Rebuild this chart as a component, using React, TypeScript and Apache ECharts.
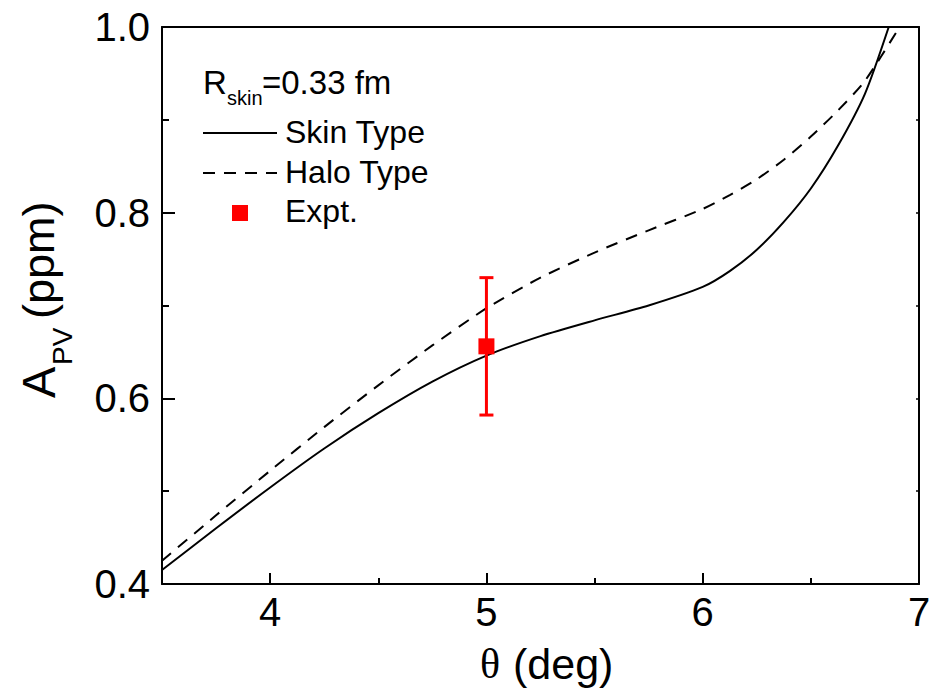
import React, { useEffect, useRef } from 'react';
import * as echarts from 'echarts';

// Skin type (solid) curve
const thetaSkin = [3.5, 3.75, 4.0, 4.25, 4.5, 4.75, 5.0, 5.25, 5.5, 5.75, 6.0, 6.125, 6.25, 6.375, 6.5, 6.625, 6.75, 6.86];
const apvSkin = [0.415, 0.46, 0.504, 0.546, 0.584, 0.618, 0.646, 0.667, 0.684, 0.7, 0.72, 0.737, 0.76, 0.79, 0.826, 0.872, 0.928, 1.0];
// Halo type (dashed) curve
const thetaHalo = [3.5, 3.75, 4.0, 4.25, 4.5, 4.75, 5.0, 5.25, 5.5, 5.75, 6.0, 6.125, 6.25, 6.375, 6.5, 6.625, 6.75, 6.91];
const apvHalo = [0.425, 0.474, 0.522, 0.569, 0.614, 0.657, 0.697, 0.73, 0.757, 0.781, 0.804, 0.819, 0.836, 0.857, 0.882, 0.91, 0.942, 1.0];
// Experimental point with error bar
const exptTheta = [5.0];
const exptApv = [0.656];
const exptLow = [0.582];
const exptHigh = [0.73];
// Axis ticks
const xMajorTicks = [4, 5, 6, 7];
const xMinorTicks = [4.5, 5.5, 6.5];
// Legend labels
const legendNames = ['Skin Type', 'Halo Type', 'Expt.'];

const FONT = 'Liberation Sans';
const DASH = [12, 9];

export default function App() {
  const ref = useRef<HTMLDivElement>(null);
  useEffect(() => {
    if (!ref.current) return;
    const chart = echarts.init(ref.current, undefined, { renderer: 'svg' });
    const axisLineStyle = { color: '#000', width: 2 };
    const txt = (x: number, y: number, text: string, fontSize: number, extra: any = {}) => ({
      type: 'text',
      x,
      y,
      ...extra,
      style: { text, fontSize, fontFamily: extra.fontFamily || FONT, fill: '#000', textAlign: 'left', textVerticalAlign: 'middle' },
    });
    const legendX = 203;
    const legendW = 74;
    const legendY = [133, 173, 213];
    const option: any = {
      animation: false,
      backgroundColor: '#fff',
      textStyle: { fontFamily: FONT, color: '#000' },
      grid: { left: 162, right: 21, top: 27, bottom: 107, containLabel: false },
      xAxis: [
        {
          type: 'value',
          position: 'bottom',
          min: 3.5,
          max: 7,
          axisLine: { show: true, lineStyle: axisLineStyle },
          axisTick: { show: true, inside: true, length: 11, lineStyle: axisLineStyle, customValues: xMajorTicks },
          axisLabel: { show: true, customValues: xMajorTicks, fontSize: 40, margin: 8, color: '#000', fontFamily: FONT },
          splitLine: { show: false },
        },
        {
          type: 'value',
          position: 'bottom',
          min: 3.5,
          max: 7,
          axisLine: { show: false },
          axisTick: { show: true, inside: true, length: 6, lineStyle: axisLineStyle, customValues: xMinorTicks },
          axisLabel: { show: false },
          splitLine: { show: false },
        },
        {
          type: 'value',
          position: 'top',
          min: 3.5,
          max: 7,
          axisLine: { show: true, lineStyle: axisLineStyle },
          axisTick: { show: false },
          axisLabel: { show: false },
          splitLine: { show: false },
        },
      ],
      yAxis: [
        {
          type: 'value',
          position: 'left',
          min: 0.4,
          max: 1.0,
          interval: 0.2,
          axisLine: { show: true, lineStyle: axisLineStyle },
          axisTick: { show: true, inside: true, length: 13, lineStyle: axisLineStyle },
          minorTick: { show: true, splitNumber: 2, length: 7, lineStyle: axisLineStyle },
          axisLabel: {
            fontSize: 40,
            margin: 12,
            color: '#000',
            fontFamily: FONT,
            formatter: (v: number) => v.toFixed(1),
          },
          splitLine: { show: false },
        },
        {
          type: 'value',
          position: 'right',
          min: 0.4,
          max: 1.0,
          interval: 0.1,
          axisLine: { show: true, lineStyle: axisLineStyle },
          axisTick: { show: true, inside: true, length: 3, lineStyle: { color: '#000', width: 1.5 } },
          axisLabel: { show: false },
          splitLine: { show: false },
        },
      ],
      graphic: [
        // R_skin annotation
        txt(203, 82.6, 'R', 33),
        txt(227, 98, 'skin', 20),
        txt(262, 82.6, '=0.33 fm', 33),
        // legend
        { type: 'line', shape: { x1: legendX, y1: legendY[0], x2: legendX + legendW, y2: legendY[0] }, style: { stroke: '#000', lineWidth: 2 } },
        { type: 'line', shape: { x1: legendX, y1: legendY[1], x2: legendX + legendW, y2: legendY[1] }, style: { stroke: '#000', lineWidth: 2, lineDash: DASH } },
        { type: 'rect', shape: { x: legendX + legendW / 2 - 8, y: legendY[2] - 8, width: 16, height: 16 }, style: { fill: '#ff0000' } },
        txt(285, legendY[0] - 1, legendNames[0], 32),
        txt(285, legendY[1] - 1, legendNames[1], 32),
        txt(285, legendY[2] - 2, legendNames[2], 32),
        // y-axis title
        txt(38.5, 398, 'A', 47, { rotation: Math.PI / 2 }),
        txt(62.5, 365, 'PV', 28, { rotation: Math.PI / 2 }),
        txt(38.5, 319, '(ppm)', 45, { rotation: Math.PI / 2 }),
        // x-axis title
        txt(480, 664, 'θ', 42, { fontFamily: 'Liberation Serif' }),
        txt(513, 664, '(deg)', 43),
      ],
      series: [
        {
          name: legendNames[0],
          type: 'line',
          data: thetaSkin.map((t, i) => [t, apvSkin[i]]),
          symbol: 'none',
          smooth: 0.25,
          lineStyle: { color: '#000', width: 2, type: 'solid' },
          itemStyle: { color: '#000' },
          z: 3,
        },
        {
          name: legendNames[1],
          type: 'line',
          data: thetaHalo.map((t, i) => [t, apvHalo[i]]),
          symbol: 'none',
          smooth: 0.25,
          lineStyle: { color: '#000', width: 2, type: DASH },
          itemStyle: { color: '#000' },
          z: 3,
        },
        {
          name: 'Expt. error',
          type: 'custom',
          data: exptTheta.map((t, i) => [t, exptLow[i], exptHigh[i]]),
          encode: { x: 0, y: [1, 2] },
          renderItem: (params: any, api: any) => {
            const x = api.value(0);
            const lo = api.value(1);
            const hi = api.value(2);
            const pHi = api.coord([x, hi]);
            const pLo = api.coord([x, lo]);
            const cap = 7;
            const style = { stroke: '#ff0000', lineWidth: 3 };
            return {
              type: 'group',
              children: [
                { type: 'line', shape: { x1: pHi[0], y1: pHi[1], x2: pLo[0], y2: pLo[1] }, style },
                { type: 'line', shape: { x1: pHi[0] - cap, y1: pHi[1], x2: pHi[0] + cap, y2: pHi[1] }, style },
                { type: 'line', shape: { x1: pLo[0] - cap, y1: pLo[1], x2: pLo[0] + cap, y2: pLo[1] }, style },
              ],
            };
          },
          z: 4,
        },
        {
          name: legendNames[2],
          type: 'scatter',
          data: exptTheta.map((t, i) => [t, exptApv[i]]),
          symbol: 'rect',
          symbolSize: 16,
          itemStyle: { color: '#ff0000', opacity: 1 },
          z: 5,
        },
      ],
    };
    chart.setOption(option);
    return () => chart.dispose();
  }, []);
  return (
    <div
      ref={ref}
      style={{ position: 'fixed', left: 0, top: 0, width: 940, height: 691, background: '#fff' }}
    />
  );
}
